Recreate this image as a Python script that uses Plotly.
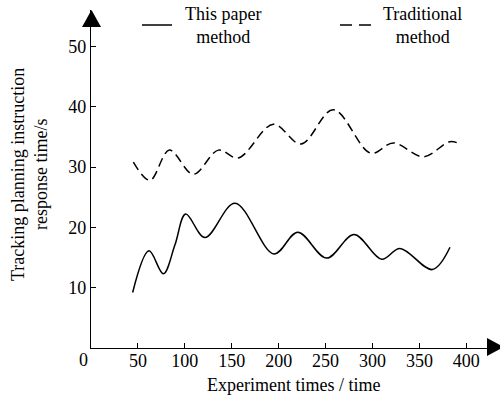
import plotly.graph_objects as go

# ---- data ----
paper_x = [44.4, 61.8, 77.1, 89.5, 100.9, 121.5, 153.5, 195.0, 220.3, 251.2, 280.3, 309.8, 329.3, 363.8, 382.6]
paper_y = [9.2, 16.1, 12.3, 17.1, 22.2, 18.3, 24.0, 15.6, 19.2, 14.9, 18.8, 14.7, 16.5, 13.0, 16.7]

trad_x = [45.1, 62.9, 83.5, 109.0, 135.7, 157.0, 194.3, 223.8, 258.2, 298.1, 322.2, 354.2, 382.6, 393.3]
trad_y = [30.8, 27.8, 32.8, 28.8, 32.8, 31.5, 37.1, 33.8, 39.5, 32.3, 34.0, 31.7, 34.2, 33.8]

x_ticks = [50, 100, 150, 200, 250, 300, 350, 400]
y_ticks = [10, 20, 30, 40, 50]

W, H = 500, 399
L, R, T, B = 91, 0, 10, 51
PW, PH = W - L - R, H - T - B
FONT = "'Liberation Serif', 'Times New Roman', Times, serif"
FS = 18


def px(xp):
    return (xp - L) / PW


def py(yp):
    return (H - B - yp) / PH


fig = go.Figure()
fig.add_trace(go.Scatter(x=paper_x, y=paper_y, mode="lines", line=dict(color="black", width=1.5, shape="spline", smoothing=1.0),
                         showlegend=False))
fig.add_trace(go.Scatter(x=trad_x, y=trad_y, mode="lines",
                         line=dict(color="black", width=1.5, shape="spline", smoothing=1.0, dash="9px,5px"),
                         showlegend=False))

shapes = [
    dict(type="path", xref="paper", yref="paper",
         path=f"M {px(91.5)} {py(10)} L {px(82)} {py(27)} L {px(101)} {py(27)} Z",
         fillcolor="black", line=dict(color="black", width=0)),
    dict(type="path", xref="paper", yref="paper",
         path=f"M {px(504)} {py(347)} L {px(487)} {py(338)} L {px(487)} {py(356)} Z",
         fillcolor="black", line=dict(color="black", width=0)),
    dict(type="line", xref="paper", yref="paper", x0=px(142), x1=px(172), y0=py(25), y1=py(25),
         line=dict(color="black", width=1.5)),
    dict(type="line", xref="paper", yref="paper", x0=px(340), x1=px(372), y0=py(25), y1=py(25),
         line=dict(color="black", width=1.5, dash="12px,7px")),
]


def ann(text, xp, yp, angle=0):
    return dict(text=text, x=px(xp), y=py(yp), xref="paper", yref="paper", showarrow=False,
                xanchor="center", yanchor="middle", textangle=angle, align="center",
                font=dict(family=FONT, size=FS, color="black"))


annotations = [
    ann("This paper<br>method", 223, 25),
    ann("Traditional<br>method", 422, 25),
    ann("Tracking planning instruction<br>response time/s", 29, 175, -90),
    ann("Experiment times / time", 293, 385),
    ann("0", 83, 360),
]

fig.update_layout(
    width=W, height=H,
    margin=dict(l=L, r=R, t=T, b=B),
    paper_bgcolor="white", plot_bgcolor="white",
    shapes=shapes, annotations=annotations,
    font=dict(family=FONT, size=FS, color="black"),
    xaxis=dict(range=[0, (W - L - R) / 0.9383], tickvals=x_ticks, ticks="inside", ticklen=5, tickcolor="black",
               showline=True, linecolor="black", linewidth=1.2, showgrid=False, zeroline=False,
               ticklabelstandoff=-4,
               tickfont=dict(family=FONT, size=FS, color="black")),
    yaxis=dict(range=[0, PH / 6.033], tickvals=y_ticks, ticks="inside", ticklen=5, tickcolor="black",
               showline=True, linecolor="black", linewidth=1.2, showgrid=False, zeroline=False,
               tickfont=dict(family=FONT, size=FS, color="black")),
    showlegend=False,
)

fig.write_html("out.html")
